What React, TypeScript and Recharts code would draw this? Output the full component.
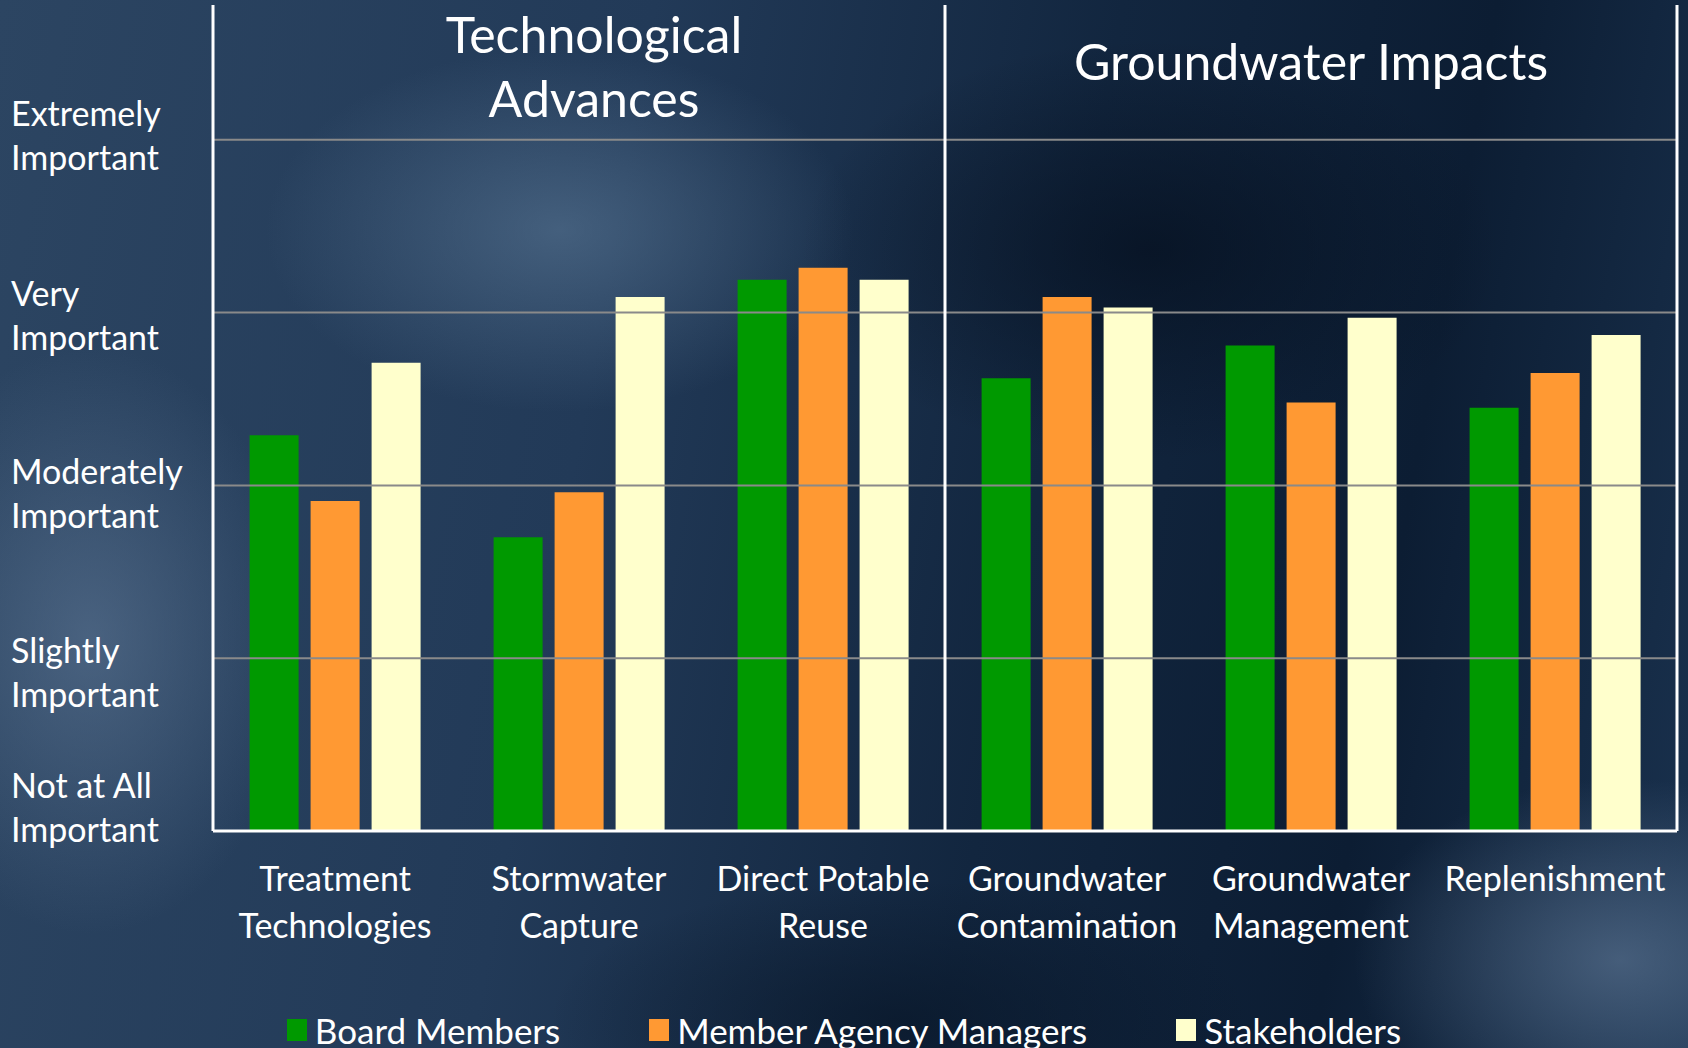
import { BarChart, Bar, XAxis, YAxis, ReferenceLine } from "recharts";

const categories = [
    "Treatment\nTechnologies",
    "Stormwater\nCapture",
    "Direct Potable\nReuse",
    "Groundwater\nContamination",
    "Groundwater\nManagement",
    "Replenishment",
];
const boardMembers = [3.29, 2.70, 4.19, 3.62, 3.81, 3.45];
const agencyManagers = [2.91, 2.96, 4.26, 4.09, 3.48, 3.65];
const stakeholders = [3.71, 4.09, 4.19, 4.03, 3.97, 3.87];

const importanceTicks = [1, 2, 3, 4, 5];
const importanceLabels = [
    "Not at All\nImportant",
    "Slightly\nImportant",
    "Moderately\nImportant",
    "Very\nImportant",
    "Extremely\nImportant",
];

// each group: title lines, middle category, last category
const groupTitles = [["Technological", "Advances"], ["Groundwater Impacts"]];
const groupMiddle = [categories[1], categories[4]];
const groupEnd = [categories[2], categories[5]];

const seriesNames = ["Board Members", "Member Agency Managers", "Stakeholders"];
const seriesColors = ["#009900", "#FF9933", "#FFFFCC"];

const chartData = categories.map((name, i) => ({
    name,
    board: boardMembers[i],
    managers: agencyManagers[i],
    stake: stakeholders[i],
}));

const FONT = "Lato, 'Open Sans', sans-serif";
const LABEL_SIZE = 34;

// PowerPoint put the axis labels a bit off the gridlines
const labelShift = [-23, 15, 8.5, 3.5, -4];

const YTick = (props: any) => {
    const { y, payload, index } = props;
    const lines = importanceLabels[importanceTicks.indexOf(payload.value)]?.split("\n") ?? [];
    const c = y + (labelShift[index] ?? 0);
    return (
        <text x={11} y={c - 22 + 12} fill="#fff" fontSize={LABEL_SIZE} fontFamily={FONT} textAnchor="start">
            {lines.map((l, i) => (
                <tspan key={i} x={11} dy={i === 0 ? 0 : 44}>{l}</tspan>
            ))}
        </text>
    );
};

const XTick = (props: any) => {
    const { x, payload } = props;
    const lines = String(payload.value).split("\n");
    return (
        <text x={x} y={891} fill="#fff" fontSize={LABEL_SIZE} fontFamily={FONT} textAnchor="middle">
            {lines.map((l, i) => (
                <tspan key={i} x={x} dy={i === 0 ? 0 : 46.5}>{l}</tspan>
            ))}
        </text>
    );
};

const GroupTitle = (idx: number) => (props: any) => {
    const vb = props.viewBox || {};
    const lines = groupTitles[idx];
    const cx = vb.x + (idx === 0 ? 15 : 0);
    const first = lines.length > 1 ? 53 : 80;
    return (
        <text x={cx} y={first} fill="#fff" fontSize={50} fontFamily={FONT} textAnchor="middle">
            {lines.map((l, i) => (
                <tspan key={i} x={cx} dy={i === 0 ? 0 : 64}>{l}</tspan>
            ))}
        </text>
    );
};

const background = [
    "radial-gradient(ellipse 420px 260px at 560px 230px, rgba(95,125,155,0.55), rgba(95,125,155,0) 70%)",
    "radial-gradient(ellipse 300px 420px at 90px 640px, rgba(95,120,150,0.6), rgba(95,120,150,0) 70%)",
    "radial-gradient(ellipse 380px 260px at 1620px 960px, rgba(100,125,155,0.6), rgba(100,125,155,0) 70%)",
    "radial-gradient(ellipse 500px 300px at 1150px 250px, rgba(5,15,30,0.7), rgba(5,15,30,0) 70%)",
    "radial-gradient(ellipse 500px 200px at 900px 1020px, rgba(8,22,40,0.7), rgba(8,22,40,0) 70%)",
    "linear-gradient(100deg, #2c4562 0%, #223a58 35%, #12263f 60%, #0c1d33 80%, #1a324f 100%)",
].join(", ");

const App = () => {
    return (
        <div
            style={{
                position: "absolute",
                left: 0,
                top: 0,
                width: 1688,
                height: 1048,
                overflow: "hidden",
                background,
            }}
        >
            <BarChart
                width={1688}
                height={1048}
                data={chartData}
                margin={{ top: 5, right: 11, left: 0, bottom: 0 }}
                barCategoryGap="15%"
                barGap={12}
            >
                <XAxis
                    dataKey="name"
                    height={217}
                    axisLine={{ stroke: "#fff", strokeWidth: 3 }}
                    tickLine={false}
                    tick={<XTick />}
                    interval={0}
                />
                <YAxis
                    width={213}
                    domain={[1, 5.78]}
                    ticks={importanceTicks}
                    allowDataOverflow
                    axisLine={{ stroke: "#fff", strokeWidth: 3 }}
                    tickLine={false}
                    tick={<YTick />}
                    interval={0}
                />
                {/* gray gridlines, only at the labelled levels */}
                {importanceTicks.slice(1).map((t) => (
                    <ReferenceLine key={"g" + t} y={t} stroke="#8a8a8a" strokeWidth={2} />
                ))}
                {groupEnd.map((c) => (
                    <ReferenceLine key={c} x={c} position="end" stroke="#fff" strokeWidth={3} />
                ))}
                {groupMiddle.map((c, i) => (
                    <ReferenceLine key={"t" + i} x={c} position="middle" stroke="none" label={GroupTitle(i)} />
                ))}
                <Bar dataKey="board" name={seriesNames[0]} fill={seriesColors[0]} isAnimationActive={false} />
                <Bar dataKey="managers" name={seriesNames[1]} fill={seriesColors[1]} isAnimationActive={false} />
                <Bar dataKey="stake" name={seriesNames[2]} fill={seriesColors[2]} isAnimationActive={false} />
            </BarChart>

            {/* legend sits below the axis labels, partly cut by the slide edge */}
            <div
                style={{
                    position: "absolute",
                    left: 0,
                    top: 1010,
                    width: 1688,
                    display: "flex",
                    justifyContent: "center",
                    gap: 89,
                    fontFamily: FONT,
                    fontSize: 35,
                    color: "#fff",
                    lineHeight: "40px",
                }}
            >
                {seriesNames.map((n, i) => (
                    <div key={n} style={{ display: "flex", alignItems: "center", gap: 8 }}>
                        <div style={{ width: 20, height: 22, background: seriesColors[i] }} />
                        <span>{n}</span>
                    </div>
                ))}
            </div>
        </div>
    );
};

export default App;
